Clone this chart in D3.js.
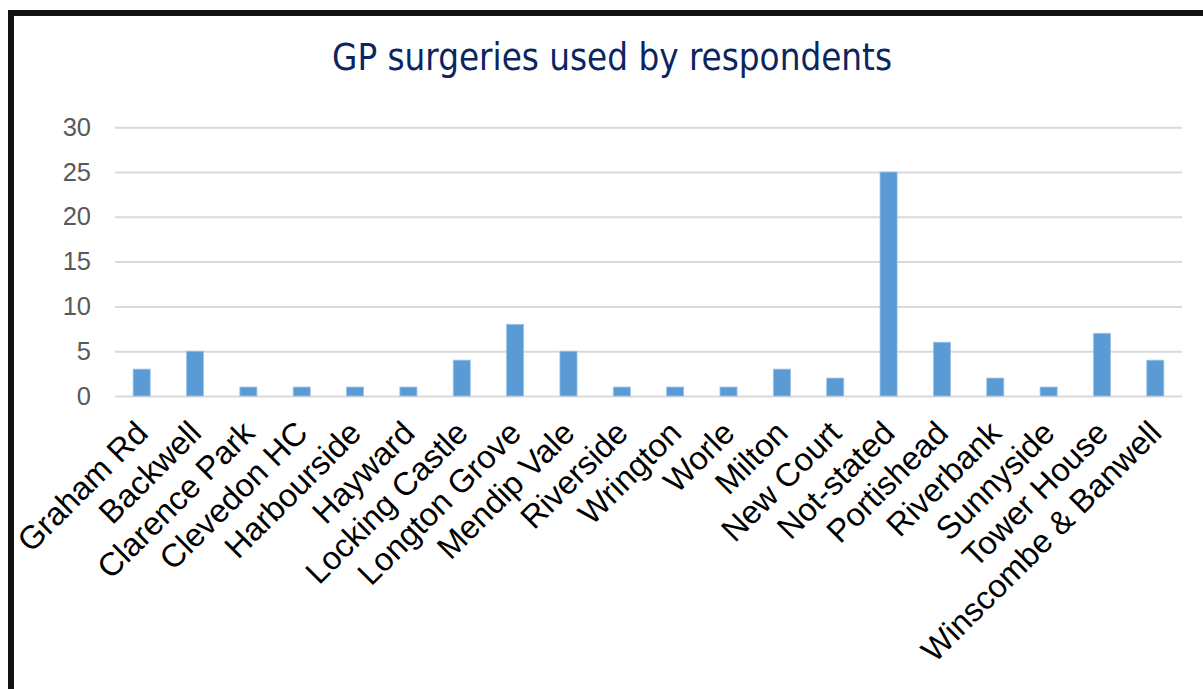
<!DOCTYPE html>
<html>
<head>
<meta charset="utf-8">
<script src="https://cdn.jsdelivr.net/npm/d3@7"></script>
<style>
  html, body { margin: 0; padding: 0; background: #fff; }
  svg { display: block; }
</style>
</head>
<body>
<svg id="chart" width="1203" height="689"></svg>
<script>
const categories = ["Graham Rd","Backwell","Clarence Park","Clevedon HC","Harbourside","Hayward","Locking Castle","Longton Grove","Mendip Vale","Riverside","Wrington","Worle","Milton","New Court","Not-stated","Portishead","Riverbank","Sunnyside","Tower House","Winscombe & Banwell"];
const values = [3,5,1,1,1,1,4,8,5,1,1,1,3,2,25,6,2,1,7,4];
const yTicks = [0,5,10,15,20,25,30];
const title = "GP surgeries used by respondents";

const W = 1203, H = 689;
const svg = d3.select("#chart");

// outer frame (cropped box)
svg.append("rect")
  .attr("x", 11).attr("y", 13)
  .attr("width", W + 20).attr("height", H + 20)
  .attr("fill", "#fff").attr("stroke", "#111").attr("stroke-width", 6);

const plot = {left: 115, right: 1182, top: 127.2, bottom: 396};

const x = d3.scaleBand().domain(categories)
  .range([plot.left, plot.right])
  .paddingInner(0.68).paddingOuter(0.34);
const y = d3.scaleLinear().domain([0, 30]).range([plot.bottom, plot.top]);

// title
svg.append("text")
  .attr("x", 612).attr("y", 70)
  .attr("text-anchor", "middle")
  .attr("font-family", "'DejaVu Sans Condensed', 'DejaVu Sans', sans-serif")
  .attr("font-size", 36.4)
  .attr("fill", "#0b2561")
  .text(title);

// gridlines
const yAxis = d3.axisLeft(y).tickValues(yTicks).tickSize(-(plot.right - plot.left)).tickPadding(24);
const gy = svg.append("g").attr("transform", `translate(${plot.left},0)`).call(yAxis);
gy.select(".domain").remove();
gy.selectAll(".tick line").attr("stroke", "#d9d9d9").attr("stroke-width", 2);
gy.selectAll(".tick text")
  .attr("font-family", "'Liberation Sans', Arial, sans-serif")
  .attr("font-size", 25.5).attr("fill", "#595959");

// bars
svg.append("g").selectAll("rect").data(values).join("rect")
  .attr("x", (d, i) => x(categories[i]))
  .attr("y", d => y(d))
  .attr("width", x.bandwidth())
  .attr("height", d => y(0) - y(d))
  .attr("fill", "#5b9bd5")
  .attr("stroke", "#9dc3e6").attr("stroke-width", 0.8);

// x axis labels
const xAxis = d3.axisBottom(x).tickSize(0).tickPadding(0);
const gx = svg.append("g").attr("transform", `translate(0,${plot.bottom})`).call(xAxis);
gx.select(".domain").remove();
gx.selectAll(".tick text")
  .attr("font-family", "'Liberation Sans', Arial, sans-serif")
  .attr("font-size", 32.5).attr("fill", "#000")
  .attr("text-anchor", "end")
  .attr("dy", null)
  .attr("y", 0)
  .attr("transform", "translate(8,39) rotate(-45)");
</script>
</body>
</html>
